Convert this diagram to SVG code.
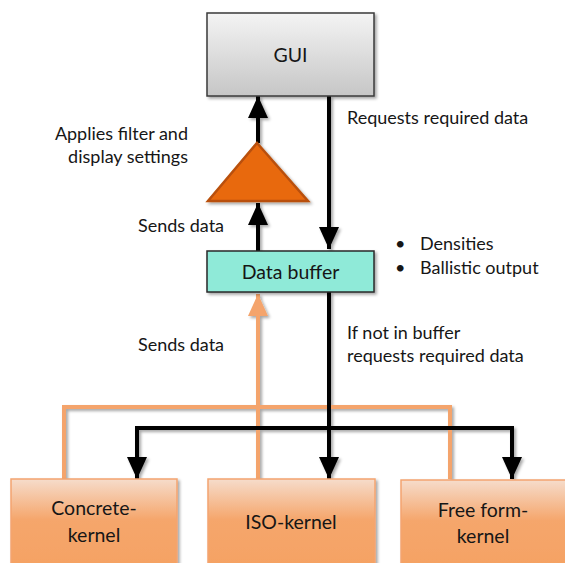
<svg xmlns="http://www.w3.org/2000/svg" width="565" height="563" viewBox="0 0 565 563">
<style>
text{font-family:Lato,"Open Sans","Liberation Sans",sans-serif;font-size:18px;fill:#161616}
.b{font-size:19.5px}
.c{text-anchor:middle}
.r{text-anchor:end}
.blk{stroke:#000;stroke-width:4;fill:none}
.org{stroke:#F4A46C;stroke-width:4;fill:none}
</style>
<defs>
<linearGradient id="gGui" x1="0" y1="0" x2="0" y2="1">
<stop offset="0" stop-color="#F4F4F4"/>
<stop offset="1" stop-color="#C6C6C6"/>
</linearGradient>
<linearGradient id="gKer" x1="0" y1="0" x2="0" y2="1">
<stop offset="0" stop-color="#F6DCCB"/>
<stop offset="0.45" stop-color="#F5A66C"/>
<stop offset="1" stop-color="#F5A263"/>
</linearGradient>
<filter id="sh" x="-10%" y="-10%" width="130%" height="130%">
<feDropShadow dx="2" dy="2" stdDeviation="1.5" flood-color="#000" flood-opacity="0.35"/>
</filter>
<marker id="ab" markerUnits="userSpaceOnUse" markerWidth="22" markerHeight="20" viewBox="0 0 22 20" refX="22" refY="10" orient="auto">
<path d="M0,0 L22,10 L0,20 Z" fill="#000"/>
</marker>
<marker id="ao" markerUnits="userSpaceOnUse" markerWidth="22" markerHeight="20" viewBox="0 0 22 20" refX="22" refY="10" orient="auto">
<path d="M0,0 L22,10 L0,20 Z" fill="#F4A46C"/>
</marker>
</defs>

<g id="connectors" filter="url(#sh)">
<path class="org" d="M64,479 V407 H450 V479"/>
<path class="org" d="M258,479 V294" marker-end="url(#ao)"/>
<path class="blk" d="M329,96 V249" marker-end="url(#ab)"/>
<path class="blk" d="M258,251 V203" marker-end="url(#ab)"/>
<path class="blk" d="M258,143 V96" marker-end="url(#ab)"/>
<path class="blk" d="M329,292 V479" marker-end="url(#ab)"/>
<path class="blk" d="M137,479 V428 H512 V479" />
<path class="blk" d="M137,440 V479" marker-end="url(#ab)"/>
<path class="blk" d="M512,440 V479" marker-end="url(#ab)"/>
</g>

<g id="gui">
<rect x="207" y="13" width="167" height="83" fill="url(#gGui)" stroke="#3a3a3a" stroke-width="1.5" filter="url(#sh)"/>
<text class="c b" x="290.5" y="62">GUI</text>
</g>

<g id="filter">
<polygon points="257,143 308,201 208,201" fill="#E8690C" stroke="#B95008" stroke-width="2.5" stroke-linejoin="miter" filter="url(#sh)"/>
</g>

<g id="buffer">
<rect x="207" y="251" width="167" height="41" fill="#8FEAD8" stroke="#2a2a2a" stroke-width="1.5" filter="url(#sh)"/>
<text class="c b" x="290.5" y="279">Data buffer</text>
</g>

<g id="concrete">
<rect x="11" y="479" width="166" height="90" fill="url(#gKer)" stroke="#F3A470" stroke-width="1.5" filter="url(#sh)"/>
<text class="c b" x="94" y="515">Concrete-</text>
<text class="c b" x="94" y="542">kernel</text>
</g>

<g id="iso">
<rect x="208" y="479" width="167" height="90" fill="url(#gKer)" stroke="#F3A470" stroke-width="1.5" filter="url(#sh)"/>
<text class="c b" x="291" y="529">ISO-kernel</text>
</g>

<g id="freeform">
<rect x="401" y="480" width="170" height="90" fill="url(#gKer)" stroke="#F3A470" stroke-width="1.5" filter="url(#sh)"/>
<text class="c b" x="483" y="517">Free form-</text>
<text class="c b" x="483" y="543">kernel</text>
</g>

<g id="labels">
<text class="r" x="188" y="140">Applies filter and</text>
<text class="r" x="188" y="163">display settings</text>
<text x="138" y="232">Sends data</text>
<text x="347" y="124">Requests required data</text>
<text x="395" y="250">•</text>
<text x="420" y="250">Densities</text>
<text x="395" y="274">•</text>
<text x="420" y="274">Ballistic output</text>
<text x="138" y="351">Sends data</text>
<text x="347" y="339">If not in buffer</text>
<text x="347" y="362">requests required data</text>
</g>
</svg>
